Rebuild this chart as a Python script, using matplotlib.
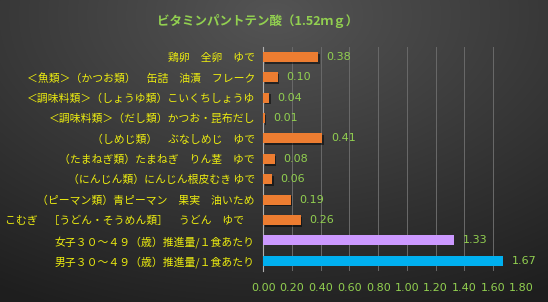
import numpy as np
import matplotlib
matplotlib.use('Agg')
from matplotlib import pyplot as plt
from matplotlib import patheffects as pe

plt.rcParams['font.family'] = ['Noto Sans CJK JP', 'DejaVu Sans']

# data (top to bottom)
labels = [
    '鶏卵　全卵　ゆで',
    '＜魚類＞（かつお類）　缶詰　油漬　フレーク',
    '＜調味料類＞（しょうゆ類）こいくちしょうゆ',
    '＜調味料類＞（だし類）かつお・昆布だし',
    '（しめじ類）　ぶなしめじ　ゆで',
    '（たまねぎ類）たまねぎ　りん茎　ゆで',
    '（にんじん類）にんじん根皮むき ゆで',
    '（ピーマン類）青ピーマン　果実　油いため',
    'こむぎ　［うどん・そうめん類］　うどん　ゆで　',
    '女子３０～４９（歳）推進量/１食あたり',
    '男子３０～４９（歳）推進量/１食あたり',
]
values = [0.38, 0.10, 0.04, 0.01, 0.41, 0.08, 0.06, 0.19, 0.26, 1.33, 1.67]
colors = ['#ed7d31'] * 9 + ['#cc99ff', '#00b0f0']
xticks = [0.0, 0.2, 0.4, 0.6, 0.8, 1.0, 1.2, 1.4, 1.6, 1.8]

green = '#92d050'
yellow = '#ecec10'

fig = plt.figure(figsize=(5.48, 3.02), dpi=100)

# dark radial background
bg = fig.add_axes([0, 0, 1, 1], zorder=-10)
yy, xx = np.mgrid[0:1:302j, 0:1:548j]
d = np.sqrt(((xx - 0.5) * 1.0) ** 2 + ((yy - 0.05) * 0.9) ** 2)
shade = np.clip(0.33 - 0.22 * d, 0.12, 0.33)
bg.imshow(np.dstack([shade] * 3), aspect='auto', extent=[0, 1, 0, 1], origin='upper')
bg.axis('off')

ax = fig.add_axes([263.3 / 548, 31.1 / 302, 258.4 / 548, 224.1 / 302])
ax.set_facecolor('none')

y = np.arange(len(labels))
bars = ax.barh(y, values, height=0.49, color=colors, zorder=3)
for b, c in zip(bars, colors):
    if c == '#ed7d31':
        b.set_path_effects([pe.SimplePatchShadow(offset=(1.2, -1.2), shadow_rgbFace='black', alpha=0.5), pe.Normal()])

for yi, v in zip(y, values):
    ax.text(v + 0.06, yi, f'{v:.2f}', va='center', ha='left', color=green, fontsize=8, family='DejaVu Sans')

ax.set_ylim(len(labels) - 0.5, -0.5)
ax.set_xlim(0, 1.8)
ax.set_xticks(xticks)
ax.set_xticklabels([f'{t:.2f}' for t in xticks], color=green, fontsize=8, family='DejaVu Sans')
ax.set_yticks(y)
ax.set_yticklabels(labels, color=yellow, fontsize=7.8)
ax.tick_params(axis='x', length=0, pad=9)
ax.tick_params(axis='y', length=0, pad=6)

ax.grid(axis='x', color='#6a6a6a', linewidth=0.7, zorder=0)
for s in ['top', 'right', 'bottom']:
    ax.spines[s].set_visible(False)
ax.spines['left'].set_color('#b0b0b0')
ax.spines['left'].set_linewidth(0.8)

fig.text(258 / 548, 1 - 20.5 / 302, 'ビタミンパントテン酸（1.52ｍｇ）', ha='center', va='center',
         color=green, fontsize=9, fontweight='bold')

fig.savefig('out.png', dpi=100)
